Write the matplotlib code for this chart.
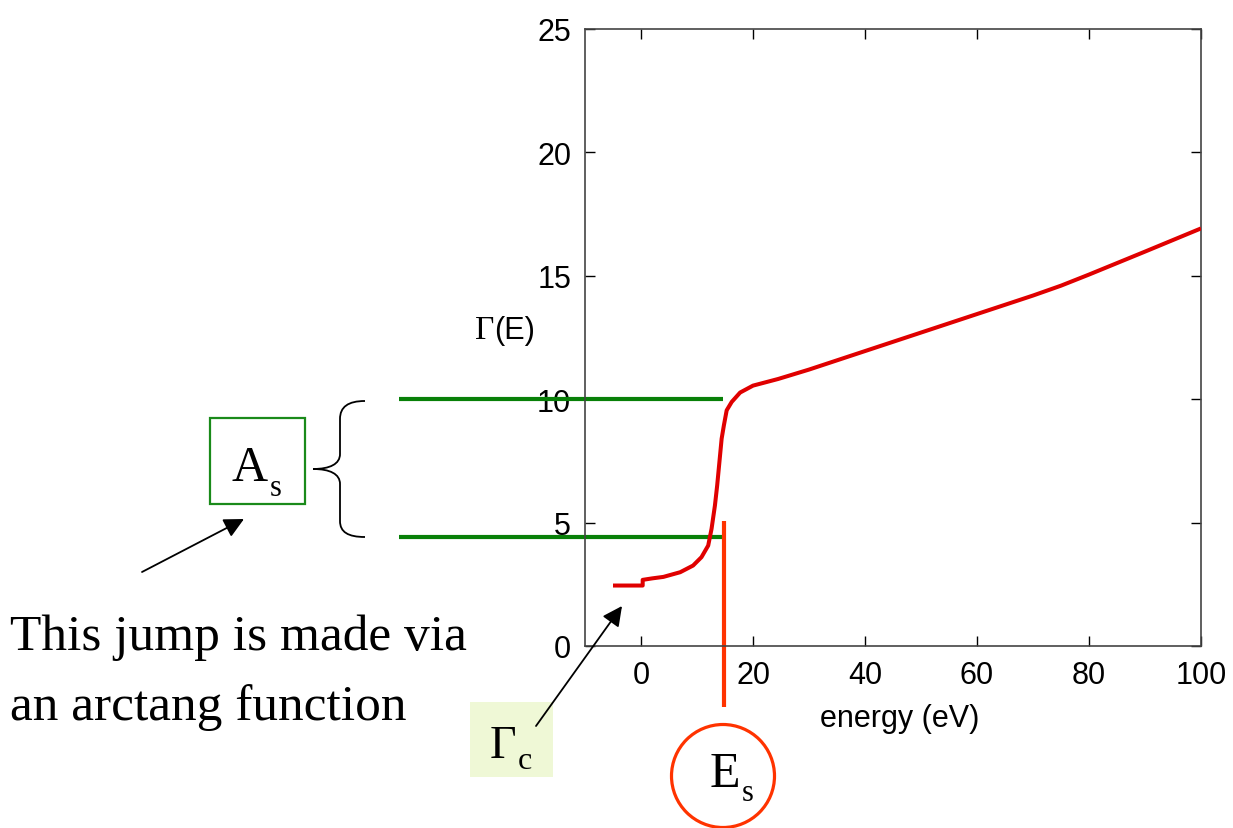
import matplotlib
matplotlib.use("Agg")
import matplotlib.pyplot as plt
from matplotlib.patches import FancyArrowPatch, Rectangle, Circle, PathPatch
from matplotlib.path import Path

# ---- data ----
energy = [-5, 0.3, 0.3, 2, 4, 7, 9.3, 10.8, 12, 12.6, 13.2, 13.6, 14, 14.4, 14.8,
          15.3, 16.2, 17.7, 20, 24.5, 30, 40, 50, 60, 70, 75, 80, 90, 100]
gamma = [2.45, 2.45, 2.68, 2.74, 2.8, 2.99, 3.26, 3.6, 4.07, 4.75, 5.69, 6.5, 7.45,
         8.4, 8.94, 9.55, 9.89, 10.27, 10.55, 10.82, 11.2, 11.95, 12.7, 13.45, 14.2,
         14.6, 15.05, 15.98, 16.92]
x_ticks = [0, 20, 40, 60, 80, 100]
y_ticks = [0, 5, 10, 15, 20, 25]
upper_level = 10.0
lower_level = 4.41
green_x = [-43.2, 14.6]
es_x = 14.8
es_y = [5.07, -2.47]

W, H = 1233, 829
fig = plt.figure(figsize=(W / 100, H / 100), dpi=100)
ax = fig.add_axes([585 / W, 1 - 647 / H, (1201 - 585) / W, (647 - 30) / H])

ax.plot(energy, gamma, color="#e00000", lw=2.9, solid_capstyle="butt",
        solid_joinstyle="round", zorder=3)
ax.plot(green_x, [upper_level, upper_level], color="#088008", lw=3.0, clip_on=False,
        solid_capstyle="butt", zorder=2)
ax.plot(green_x, [lower_level, lower_level], color="#088008", lw=3.0, clip_on=False,
        solid_capstyle="butt", zorder=2)
ax.plot([es_x, es_x], es_y, color="#ff3300", lw=3.0, clip_on=False,
        solid_capstyle="butt", zorder=2)

ax.set_xlim(-10, 100)
ax.set_ylim(0, 25)
ax.set_xticks(x_ticks)
ax.set_yticks(y_ticks)
ax.tick_params(direction="in", length=7.5, width=1.0, top=True, right=True,
               labelsize=22, pad=10, colors="black")
for lab in ax.get_xticklabels() + ax.get_yticklabels():
    lab.set_family("Liberation Sans")
for s in ax.spines.values():
    s.set_color("#444444")
    s.set_linewidth(1.2)
ax.set_xlabel("energy (eV)", fontsize=22, family="Liberation Sans")
ax.xaxis.set_label_coords(0.511, -0.092)

# Gamma(E) label
ax.text(494 / W, 1 - 331 / H, "Γ", transform=fig.transFigure, ha="right", va="center",
        fontsize=24, family="Liberation Serif")
ax.text(494 / W, 1 - 331 / H, "(E)", transform=fig.transFigure, ha="left", va="center",
        fontsize=22, family="Liberation Sans")

T = fig.dpi_scale_trans
def P(x, y):
    return (x / 100, (H - y) / 100)

# big text
fig.text(*P(10, 650), "This jump is made via", transform=T, fontsize=37,
         family="Liberation Serif", ha="left", va="baseline")
fig.text(*P(10, 720), "an arctang function", transform=T, fontsize=37,
         family="Liberation Serif", ha="left", va="baseline")

# A_s box
fig.add_artist(Rectangle(P(210, 505), 95 / 100, 86 / 100, transform=T, fill=False,
                         edgecolor="#1a8a1a", lw=1.6))
fig.text(*P(231, 481), "A", transform=T, fontsize=36, family="Liberation Serif",
         ha="left", va="baseline")
fig.text(*P(270, 496), "s", transform=T, fontsize=22, family="Liberation Serif",
         ha="left", va="baseline")

# brace
verts = [P(365, 402), P(348, 402), P(340, 408), P(340, 420),
         P(340, 455),
         P(340, 465), P(330, 470), P(313, 470),
         P(330, 470), P(340, 475), P(340, 485),
         P(340, 522),
         P(340, 533), P(348, 538), P(365, 538)]
codes = [Path.MOVETO, Path.CURVE4, Path.CURVE4, Path.CURVE4,
         Path.LINETO,
         Path.CURVE4, Path.CURVE4, Path.CURVE4,
         Path.CURVE4, Path.CURVE4, Path.CURVE4,
         Path.LINETO,
         Path.CURVE4, Path.CURVE4, Path.CURVE4]
fig.add_artist(PathPatch(Path(verts, codes), transform=T, fill=False, lw=1.3,
                         edgecolor="black"))

# Gamma_c box
fig.add_artist(Rectangle(P(470, 778), 83 / 100, 75 / 100, transform=T,
                         facecolor="#eff8d6", edgecolor="none"))
fig.text(*P(490, 758), "Γ", transform=T, fontsize=33, family="Liberation Serif",
         ha="left", va="baseline")
fig.text(*P(518, 769), "c", transform=T, fontsize=23, family="Liberation Serif",
         ha="left", va="baseline")

# E_s circle
fig.add_artist(Circle(P(723, 777), 0.515, transform=T, fill=False,
                      edgecolor="#ff3300", lw=2.3))
fig.text(*P(710, 787), "E", transform=T, fontsize=36, family="Liberation Serif",
         ha="left", va="baseline")
fig.text(*P(742, 801), "s", transform=T, fontsize=22, family="Liberation Serif",
         ha="left", va="baseline")

# arrows
for tail, tip in [((142, 573), (244, 520)), ((536, 727), (622, 607))]:
    fig.add_artist(FancyArrowPatch(P(*tail), P(*tip), transform=T, arrowstyle="-|>",
                                   mutation_scale=30, lw=1.3, color="black",
                                   shrinkA=0, shrinkB=0))

fig.savefig("out.png", dpi=100)
